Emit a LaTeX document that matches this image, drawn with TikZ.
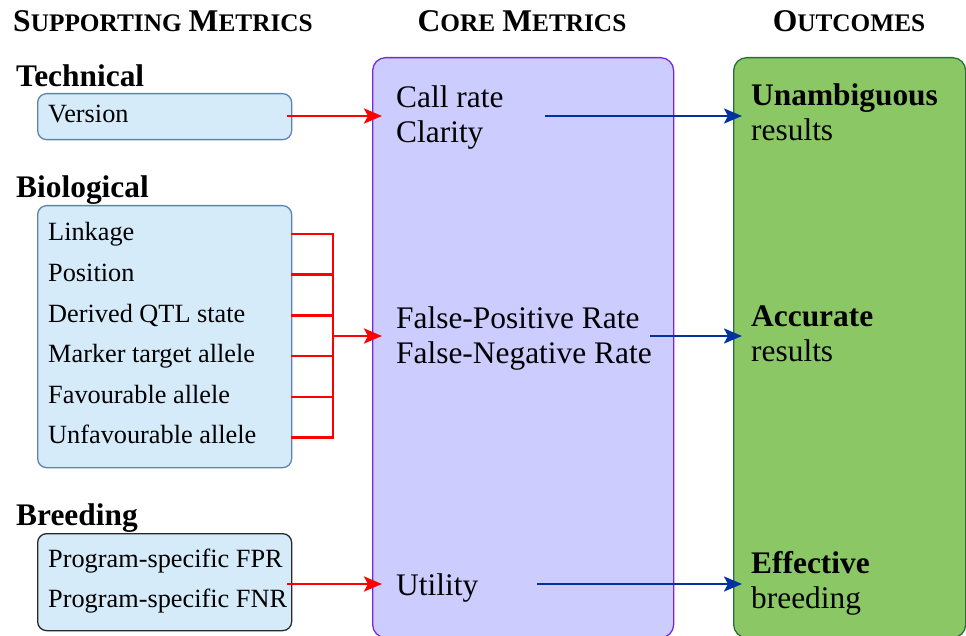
\documentclass[tikz,border=0pt]{standalone}
\usepackage{fontspec}
\setmainfont{LiberationSerif}[Extension=.ttf, UprightFont=*-Regular, BoldFont=*-Bold, ItalicFont=*-Italic, BoldItalicFont=*-BoldItalic]
\usetikzlibrary{arrows.meta}
\definecolor{boxblue}{RGB}{214,235,250}
\definecolor{boxbluedraw}{RGB}{95,130,180}
\definecolor{boxdark}{RGB}{40,40,40}
\definecolor{corefill}{RGB}{204,204,255}
\definecolor{coredraw}{RGB}{120,40,220}
\definecolor{outfill}{RGB}{139,199,101}
\definecolor{outdraw}{RGB}{40,110,60}
\definecolor{arrred}{RGB}{255,0,0}
\definecolor{arrblue}{RGB}{0,50,160}
\newcommand{\bigtxt}{\fontsize{31.4}{35}\selectfont}
\newcommand{\smalltxt}{\fontsize{26.3}{30}\selectfont}
\newcommand{\schd}[2]{{\fontsize{31.6}{34}\selectfont #1}{\fontsize{25.3}{34}\selectfont #2}}
\tikzset{
  bluebox/.style={draw=boxbluedraw, fill=boxblue, line width=1.3pt, rounded corners=9pt, anchor=north west, inner sep=0pt},
  corebox/.style={draw=coredraw, fill=corefill, line width=1.3pt, rounded corners=13pt, anchor=north west, inner sep=0pt},
  outbox/.style={draw=outdraw, fill=outfill, line width=1.3pt, rounded corners=13pt, anchor=north west, inner sep=0pt},
  item/.style={anchor=base west, inner sep=0pt, font=\smalltxt},
  bigitem/.style={anchor=base west, inner sep=0pt, font=\bigtxt},
  grouplbl/.style={anchor=base west, inner sep=0pt, font=\bigtxt\bfseries},
  heading/.style={anchor=base, inner sep=0pt, font=\bfseries},
  redarr/.style={draw=arrred, line width=2.8pt, -{Stealth[length=18pt,width=15pt,inset=4pt]}},
  redline/.style={draw=arrred, line width=2.8pt},
  bluearr/.style={draw=arrblue, line width=2.5pt, -{Stealth[length=18pt,width=15pt,inset=4pt]}},
}
\begin{document}
\begin{tikzpicture}[x=1pt,y=-1pt]
\useasboundingbox (0,0) rectangle (966,636);
% headings
\node[heading] (h1) at (163,32) {\schd{S}{UPPORTING}\hspace{7pt}\schd{M}{ETRICS}};
\node[heading] (h2) at (522,32) {\schd{C}{ORE}\hspace{7pt}\schd{M}{ETRICS}};
\node[heading] (h3) at (849,32) {\schd{O}{UTCOMES}};
% big boxes
\node[corebox, minimum width=301pt, minimum height=580pt] (core) at (372,57) {};
\node[outbox, minimum width=232pt, minimum height=580pt] (out) at (733,57) {};
% group labels
\node[grouplbl] (tech) at (16,86.5) {Technical};
\node[grouplbl] (bio) at (16,197.5) {Biological};
\node[grouplbl] (breed) at (16,525.5) {Breeding};
% supporting boxes
\node[bluebox, minimum width=254pt, minimum height=46pt] (verbox) at (37,93) {};
\node[bluebox, minimum width=254pt, minimum height=262pt] (biobox) at (37,205) {};
\node[bluebox, draw=boxdark, minimum width=254pt, minimum height=97pt] (breedbox) at (37,533) {};
\node[item] (ver) at (48,122.5) {Version};
\node[item] (b1) at (48,241) {Linkage};
\node[item] (b2) at (48,281.5) {Position};
\node[item] (b3) at (48,322) {Derived QTL state};
\node[item] (b4) at (48,362.5) {Marker target allele};
\node[item] (b5) at (48,403) {Favourable allele};
\node[item] (b6) at (48,443.5) {Unfavourable allele};
\node[item] (p1) at (48,567) {Program-specific FPR};
\node[item] (p2) at (48,607.5) {Program-specific FNR};
% core texts
\node[bigitem] (c1) at (396,108) {Call rate};
\node[bigitem] (c2) at (396,143) {Clarity};
\node[bigitem] (c3) at (396,328) {False-Positive Rate};
\node[bigitem] (c4) at (396,363) {False-Negative Rate};
\node[bigitem] (c5) at (396,595) {Utility};
% outcome texts
\node[bigitem, font=\bigtxt\bfseries] (o1) at (751,106) {Unambiguous};
\node[bigitem] (o2) at (751,141) {results};
\node[bigitem, font=\bigtxt\bfseries] (o3) at (751,326) {Accurate};
\node[bigitem] (o4) at (751,361) {results};
\node[bigitem, font=\bigtxt\bfseries] (o5) at (751,573.5) {Effective};
\node[bigitem] (o6) at (751,608) {breeding};
% connector coordinates
\coordinate (vs) at (287,116);
\coordinate (ve) at (382,116);
\coordinate (ps) at (287,584);
\coordinate (pe) at (382,584);
\coordinate (bx) at (333,336);
\coordinate (be) at (382,336);
\coordinate (u1) at (545,116);
\coordinate (u1e) at (742,116);
\coordinate (u2) at (650,336);
\coordinate (u2e) at (742,336);
\coordinate (u3) at (537,584);
\coordinate (u3e) at (742,584);
% red arrows
\draw[redarr] (vs) -- (ve);
\draw[redarr] (ps) -- (pe);
\draw[redline, line join=miter] (291,234) -| (333,437.7) -- (291,437.7);
\foreach \yy in {274.7,315.7,356,397}{\draw[redline] (291,\yy) -- (333,\yy);}
\draw[redarr] (bx) -- (be);
% blue arrows
\draw[bluearr] (u1) -- (u1e);
\draw[bluearr] (u2) -- (u2e);
\draw[bluearr] (u3) -- (u3e);
\end{tikzpicture}
\end{document}
